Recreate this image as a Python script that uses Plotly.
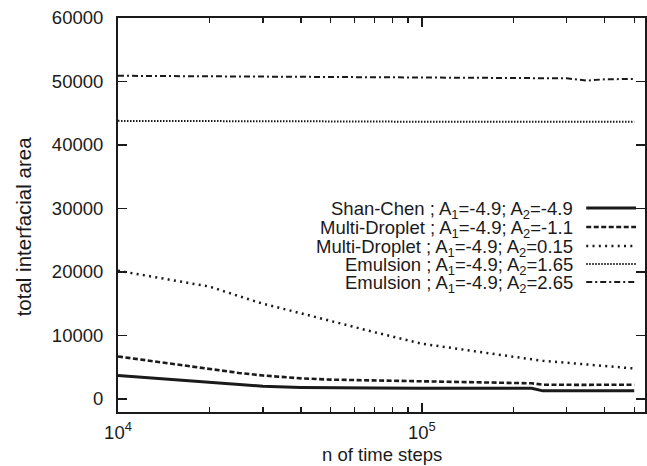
import plotly.graph_objects as go

# ---- data ----
x_steps = [1e4, 1.5e4, 2e4, 2.5e4, 3e4, 4e4, 5e4, 7e4, 1e5, 1.5e5, 2e5, 2.3e5, 2.5e5, 3e5, 3.5e5, 4e5, 5e5]
shan_chen = [3700, 3050, 2550, 2200, 2000, 1820, 1750, 1720, 1700, 1690, 1680, 1680, 1280, 1300, 1300, 1300, 1300]
multi_m11 = [6700, 5500, 4700, 4100, 3700, 3250, 3050, 2900, 2800, 2600, 2500, 2470, 2250, 2200, 2220, 2250, 2250]
multi_015 = [20200, 18800, 17700, 16200, 15000, 13500, 12300, 10500, 8700, 7500, 6600, 6200, 6000, 5700, 5450, 5200, 4800]
emul_165 = [43800, 43800, 43750, 43750, 43750, 43700, 43700, 43700, 43650, 43650, 43650, 43600, 43600, 43650, 43600, 43600, 43650]
emul_265 = [50900, 50850, 50800, 50780, 50750, 50700, 50700, 50650, 50600, 50600, 50550, 50500, 50550, 50500, 50150, 50350, 50400]

series_names = [
    "Shan-Chen ; A<sub>1</sub>=-4.9; A<sub>2</sub>=-4.9",
    "Multi-Droplet ; A<sub>1</sub>=-4.9; A<sub>2</sub>=-1.1",
    "Multi-Droplet ; A<sub>1</sub>=-4.9; A<sub>2</sub>=0.15",
    "Emulsion ; A<sub>1</sub>=-4.9; A<sub>2</sub>=1.65",
    "Emulsion ; A<sub>1</sub>=-4.9; A<sub>2</sub>=2.65",
]
series_values = [shan_chen, multi_m11, multi_015, emul_165, emul_265]

y_ticks = [0, 10000, 20000, 30000, 40000, 50000, 60000]
x_major = [1e4, 1e5]
x_major_text = ["10<sup>4</sup>", "10<sup>5</sup>"]
x_minor = [2e4, 3e4, 4e4, 5e4, 6e4, 7e4, 8e4, 9e4, 2e5, 3e5, 4e5, 5e5]
x_title = "n of time steps"
y_title = "total interfacial area"

# ---- styles ----
INK = "#1a1a1a"
styles = [
    dict(dash="solid", width=3),
    dict(dash="5px,2.5px", width=2.6),
    dict(dash="2px,4.3px", width=2.5),
    dict(dash="1.5px,1.5px", width=2),
    dict(dash="6px,3px,2px,3px", width=2),
]

FONT = "Liberation Sans, Arial, Helvetica, sans-serif"
FS = 18.5

W, H = 647, 466
L, R, T, B = 118, 647, 18, 412

def px(x):
    return (x - L) / (R - L)
def py(y):
    return (B - y) / (B - T)

fig = go.Figure()
for name, vals, st in zip(series_names, series_values, styles):
    fig.add_trace(go.Scatter(
        x=x_steps, y=vals, mode="lines", name=name, showlegend=False,
        line=dict(color=INK, width=st["width"], dash=st["dash"]),
    ))

# manual gnuplot-style key (text right-aligned, sample to the right)
row_y = [208, 227, 246, 264, 282]
text_right = 577
samp_x0, samp_x1 = 588, 638
for name, st, yy in zip(series_names, styles, row_y):
    fig.add_annotation(
        x=px(text_right), y=py(yy), xref="paper", yref="paper",
        text=name, showarrow=False, xanchor="right", yanchor="middle",
        yshift=-2, font=dict(family=FONT, size=FS, color=INK),
    )
    fig.add_shape(
        type="line", xref="paper", yref="paper",
        x0=px(samp_x0), x1=px(samp_x1), y0=py(yy), y1=py(yy),
        line=dict(color=INK, width=st["width"], dash=st["dash"]),
    )

# axis titles
fig.add_annotation(
    x=px(383), y=py(467), xref="paper", yref="paper", text=x_title,
    showarrow=False, xanchor="center", yanchor="bottom",
    font=dict(family=FONT, size=FS, color=INK),
)
fig.add_annotation(
    x=px(23), y=py(226), xref="paper", yref="paper", text=y_title,
    showarrow=False, xanchor="center", yanchor="middle", textangle=-90,
    font=dict(family=FONT, size=20.5, color=INK),
)

fig.update_layout(
    width=W, height=H,
    margin=dict(l=L, r=W - R, t=T, b=H - B, pad=0),
    paper_bgcolor="white", plot_bgcolor="white",
    font=dict(family=FONT, size=FS, color=INK),
    showlegend=False,
)

fig.update_xaxes(
    type="log", range=[4, 4 + (R - L) / 305],
    tickmode="array", tickvals=x_major, ticktext=x_major_text,
    ticks="inside", ticklen=9, tickwidth=1.5, tickcolor=INK,
    minor=dict(tickmode="array", tickvals=x_minor, ticks="inside", ticklen=5,
               tickwidth=1.2, tickcolor=INK, showgrid=False),
    showline=True, linecolor=INK, linewidth=2, mirror="ticks",
    showgrid=False, zeroline=False,
    ticklabelstandoff=3,
)
fig.update_yaxes(
    range=[-2050, 60000],
    tickmode="array", tickvals=y_ticks, ticktext=[str(v) for v in y_ticks],
    ticks="inside", ticklen=9, tickwidth=1.5, tickcolor=INK,
    showline=True, linecolor=INK, linewidth=2, mirror="ticks",
    showgrid=False, zeroline=False,
    ticklabelstandoff=9,
)

fig.write_html(
    "out.html",
    config={"displayModeBar": False, "staticPlot": True},
    post_script="document.body.style.margin='0px';document.body.style.overflow='hidden';",
)
